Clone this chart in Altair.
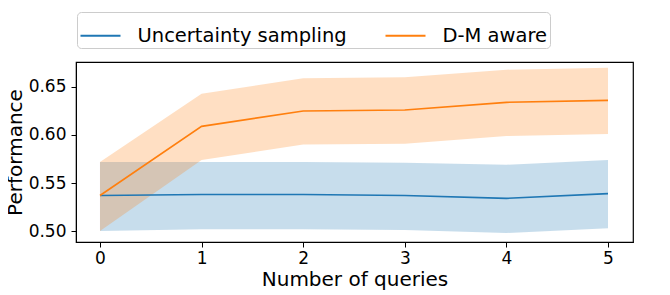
import altair as alt
import pandas as pd

queries = [0, 1, 2, 3, 4, 5]
series_names = ["Uncertainty sampling", "D-M aware"]
unc_mean = [0.537, 0.538, 0.538, 0.537, 0.534, 0.539]
unc_low = [0.500, 0.502, 0.502, 0.501, 0.498, 0.503]
unc_high = [0.572, 0.572, 0.572, 0.571, 0.569, 0.574]
dm_mean = [0.537, 0.609, 0.625, 0.626, 0.634, 0.636]
dm_low = [0.500, 0.574, 0.590, 0.591, 0.599, 0.601]
dm_high = [0.572, 0.643, 0.659, 0.660, 0.668, 0.670]
colors = ["#1f77b4", "#ff7f0e"]

rows = []
for name, m, lo, hi in [(series_names[0], unc_mean, unc_low, unc_high),
                        (series_names[1], dm_mean, dm_low, dm_high)]:
    for q, a, b, c in zip(queries, m, lo, hi):
        rows.append({"q": q, "series": name, "mean": a, "low": b, "high": c})
df = pd.DataFrame(rows)

xscale = alt.Scale(domain=[-0.236, 5.246], nice=False, zero=False)
yscale = alt.Scale(domain=[0.4886, 0.676], nice=False, zero=False)
cscale = alt.Scale(domain=series_names, range=colors)

legend = alt.Legend(title=None, orient="none", legendX=1, legendY=-50,
                    direction="horizontal", symbolType="stroke",
                    symbolSize=1600, symbolStrokeWidth=2, symbolOpacity=1,
                    labelFontSize=19.5, labelOffset=16, labelFont="DejaVu Sans",
                    labelLimit=0, columnPadding=34, padding=2.5, symbolLimit=0,
                    strokeColor="#cccccc", cornerRadius=4,
                    labelColor="black", fillColor="white")

base = alt.Chart(df)

band = base.mark_area(opacity=0.25).encode(
    x=alt.X("q:Q", scale=xscale),
    y=alt.Y("low:Q", scale=yscale),
    y2="high:Q",
    color=alt.Color("series:N", scale=cscale, sort=series_names, legend=legend),
    detail="series:N",
)

line = base.mark_line(strokeWidth=1.6).encode(
    x=alt.X("q:Q", scale=xscale,
            axis=alt.Axis(values=queries, title="Number of queries", format="d")),
    y=alt.Y("mean:Q", scale=yscale,
            axis=alt.Axis(values=[0.50, 0.55, 0.60, 0.65], format=".2f", title="Performance",
                          titleX=-51, titleY=90)),
    color=alt.Color("series:N", scale=cscale, sort=series_names, legend=legend),
)

chart = (band + line).properties(
    width=557, height=180,
    autosize=alt.AutoSizeParams(type="none"),
    padding={"left": 68, "top": 54, "right": 20, "bottom": 50},
).configure_view(stroke="black", strokeWidth=1.2).configure_axis(
    grid=False, labelFont="DejaVu Sans", titleFont="DejaVu Sans",
    labelFontSize=17, titleFontSize=20, labelColor="black", titleColor="black",
    tickColor="black", domainColor="black", tickSize=5, titleFontWeight="normal",
).configure_axisY(labelPadding=5).configure_axisX(titlePadding=3, labelPadding=3)

chart.save("out.html", embed_options={"renderer": "svg", "actions": False})
